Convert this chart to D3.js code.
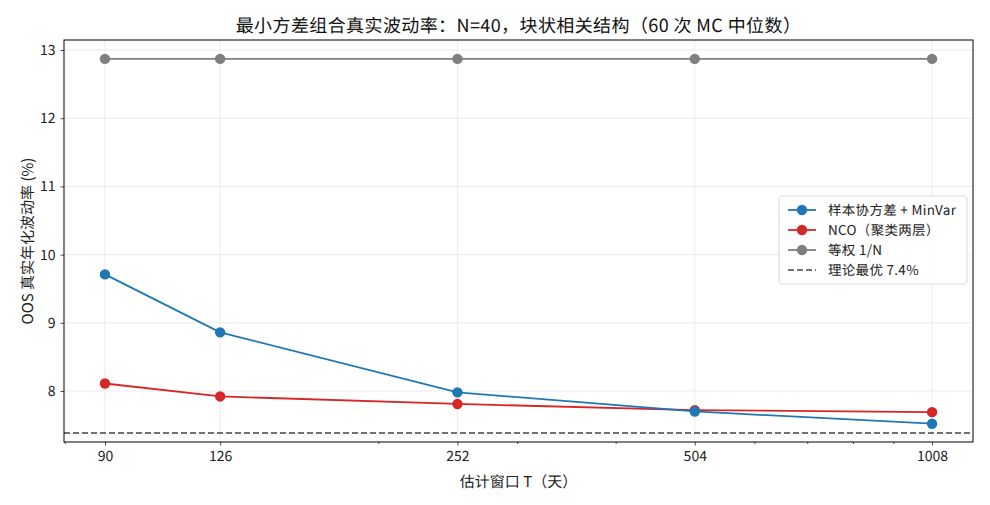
<!DOCTYPE html>
<html>
<head>
<meta charset="utf-8">
<script src="https://cdn.jsdelivr.net/npm/d3@7"></script>
<style>
  body { margin: 0; background: #fff; }
  text { font-family: "Noto Sans CJK SC", "Liberation Sans", sans-serif; text-rendering: geometricPrecision; }
</style>
</head>
<body>
<svg width="990" height="505"></svg>
<script>
// window lengths (days) and median OOS vol (%)
const windows = [90, 126, 252, 504, 1008]
const sampleMinVar = [9.71, 8.86, 7.98, 7.70, 7.52]
const nco = [8.11, 7.92, 7.81, 7.72, 7.69]
const equalWeight = [12.87, 12.87, 12.87, 12.87, 12.87]
const theoryBest = 7.385
const yTicks = [8, 9, 10, 11, 12, 13]

const series = [
  { name: '样本协方差 + MinVar', values: sampleMinVar, color: '#1f77b4' },
  { name: 'NCO（聚类两层）', values: nco, color: '#d62728' },
  { name: '等权 1/N', values: equalWeight, color: '#7f7f7f' }
]

var svg = d3.select('svg')
var margin = { top: 40, right: 17, bottom: 63, left: 64 }
var width = 990 - margin.left - margin.right
var height = 505 - margin.top - margin.bottom

var xScale = d3.scaleLog()
    .domain([79.85, 1136])
    .range([0, width])
var yScale = d3.scaleLinear()
    .domain([7.252, 13.147])
    .range([height, 0])

var g = svg.append('g')
    .attr('transform', 'translate(' + margin.left + ',' + margin.top + ')')

// grid
g.selectAll('.gx').data(windows).enter().append('line')
    .attr('x1', d => xScale(d)).attr('x2', d => xScale(d))
    .attr('y1', 0).attr('y2', height)
    .attr('stroke', '#e6e6e6').attr('stroke-width', 0.8)
g.selectAll('.gy').data(yTicks).enter().append('line')
    .attr('x1', 0).attr('x2', width)
    .attr('y1', d => yScale(d)).attr('y2', d => yScale(d))
    .attr('stroke', '#e6e6e6').attr('stroke-width', 0.8)

// minor ticks on log axis
var minor = [80, 200, 300, 400, 600, 700, 800, 900]
var xAxis = d3.axisBottom(xScale)
    .tickValues(windows)
    .tickFormat(d3.format('d'))
    .tickSize(3.5)
    .tickPadding(6)
var xMinor = d3.axisBottom(xScale)
    .tickValues(minor)
    .tickFormat('')
    .tickSize(2)
var yAxis = d3.axisLeft(yScale)
    .tickValues(yTicks)
    .tickFormat(d3.format('d'))
    .tickSize(3.5)
    .tickPadding(5)

g.append('g')
    .attr('transform', 'translate(0,' + height + ')')
    .call(xAxis)
g.append('g')
    .attr('transform', 'translate(0,' + height + ')')
    .call(xMinor)
g.append('g').call(yAxis)

g.selectAll('.tick text').attr('font-size', 14).attr('fill', '#222')
g.selectAll('.tick line').attr('stroke', '#222').attr('stroke-width', 0.8)
g.selectAll('.domain').remove()

// dashed theory line
g.append('line')
    .attr('x1', 0).attr('x2', width)
    .attr('y1', yScale(theoryBest)).attr('y2', yScale(theoryBest))
    .attr('stroke', '#444').attr('stroke-width', 1.6)
    .attr('stroke-dasharray', '6,3')

var line = d3.line()
    .x((d, i) => xScale(windows[i]))
    .y(d => yScale(d))

// draw in reverse so blue ends up under red at the overlap
series.slice().reverse().forEach(function(s) {
    g.append('path')
        .datum(s.values)
        .attr('fill', 'none')
        .attr('stroke', s.color)
        .attr('stroke-width', 1.8)
        .attr('d', line)
    g.selectAll(null)
        .data(s.values)
        .enter()
        .append('circle')
        .attr('cx', (d, i) => xScale(windows[i]))
        .attr('cy', d => yScale(d))
        .attr('r', 5.2)
        .attr('fill', s.color)
})

// frame
g.append('rect')
    .attr('width', width).attr('height', height)
    .attr('fill', 'none').attr('stroke', '#000').attr('stroke-width', 1)

// titles
svg.append('text')
    .attr('x', margin.left + width / 2).attr('y', 32)
    .attr('text-anchor', 'middle').attr('font-size', 18).attr('fill', '#111')
    .attr('letter-spacing', 0.4)
    .text('最小方差组合真实波动率：N=40，块状相关结构（60 次 MC 中位数）')
svg.append('text')
    .attr('x', margin.left + width / 2).attr('y', 487)
    .attr('text-anchor', 'middle').attr('font-size', 15).attr('fill', '#222')
    .text('估计窗口 T（天）')
svg.append('text')
    .attr('transform', 'translate(33,' + (margin.top + height / 2) + ') rotate(-90)')
    .attr('text-anchor', 'middle').attr('font-size', 15).attr('fill', '#222')
    .text('OOS 真实年化波动率 (%)')

// legend
var legend = svg.append('g').attr('transform', 'translate(779,196)')
legend.append('rect')
    .attr('width', 188).attr('height', 88).attr('rx', 3)
    .attr('fill', '#fff').attr('fill-opacity', 0.85)
    .attr('stroke', '#d0d0d0').attr('stroke-width', 0.8)
var items = series.map(s => ({ name: s.name, color: s.color, dash: false }))
items.push({ name: '理论最优 7.4%', color: '#444', dash: true })
items.forEach(function(it, i) {
    var y = 14 + i * 20
    legend.append('line')
        .attr('x1', 9).attr('x2', 37).attr('y1', y).attr('y2', y)
        .attr('stroke', it.color).attr('stroke-width', it.dash ? 1.6 : 1.8)
        .attr('stroke-dasharray', it.dash ? '6,3' : null)
    if (!it.dash) {
        legend.append('circle').attr('cx', 23).attr('cy', y).attr('r', 5.2).attr('fill', it.color)
    }
    legend.append('text')
        .attr('x', 49).attr('y', y + 4.5)
        .attr('font-size', 13.5).attr('fill', '#222')
        .attr('letter-spacing', 0.3)
        .text(it.name)
})
</script>
</body>
</html>
